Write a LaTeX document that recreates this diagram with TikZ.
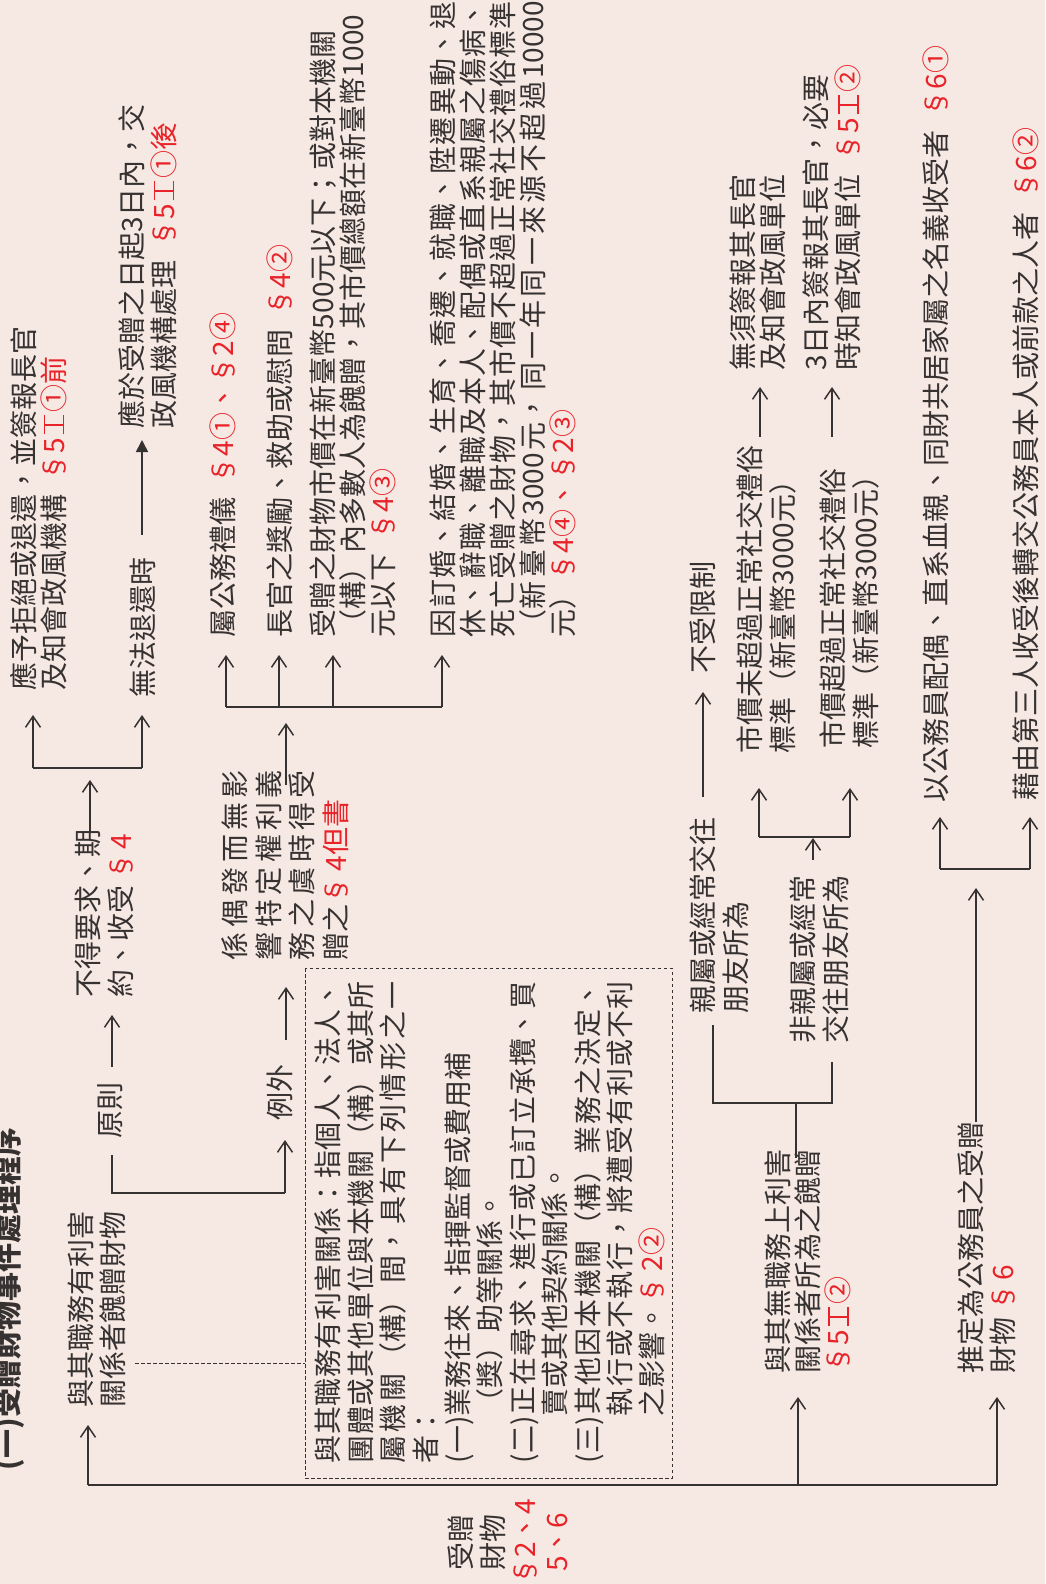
\documentclass[tikz,border=0pt]{standalone}
\usepackage{fontspec}
\setmainfont{Noto Sans CJK TC}
\usetikzlibrary{arrows.meta}
\definecolor{bg}{RGB}{246,232,226}
\definecolor{tx}{RGB}{55,50,50}
\definecolor{rd}{RGB}{232,36,42}
\newcommand\rd[1]{\textcolor{rd}{#1}}
\newcommand\gp{\hspace{13pt}}
\newcommand\ind{\phantom{(一)}}
\newcommand\RI{\hspace{3pt}\makebox[19pt][l]{\rlap{\rule[0pt]{19pt}{1.3pt}}\rlap{\rule[19pt]{19pt}{1.3pt}}\hspace{8.5pt}\rule{2pt}{20.3pt}}\hspace{3pt}}
\XeTeXlinebreaklocale "zh"
\XeTeXlinebreakskip=0pt plus 6pt
\lineskiplimit=-\maxdimen
\tikzset{
  every node/.style={inner sep=0pt, outer sep=0pt, text=tx},
  rot/.style={rotate=90, anchor=north west, align=left, font=\fontsize{28}{30}\selectfont},
  sk/.style={font=\fontsize{28}{#1}\selectfont},
  ln/.style={draw=tx, line width=1.5pt},
  ar/.style={ln, -{Straight Barb[length=11pt,width=15pt]}},
  fa/.style={ln, -{Triangle[length=12pt,width=12pt]}},
  dsh/.style={draw=tx, line width=1pt, dash pattern=on 3.5pt off 2.5pt}
}
\begin{document}
\begin{tikzpicture}[x=1pt,y=-1pt]
\useasboundingbox (0,0) rectangle (1045,1584);
\fill[bg] (0,0) rectangle (1045,1584);

% title
\node[rot, font=\fontsize{29}{30}\selectfont\bfseries] (title) at (-7,1470) {(一)受贈財物事件處理程序};

% root
\node[rotate=90, anchor=center, align=center, sk=32] (root) at (508,1542) {受贈\\財物\\\rd{§2、4}\\\rd{5、6}};

% level 1
\node[rot, sk=32] (nA) at (68,1407) {與其職務有利害\\關係者餽贈財物};
\node[rot] (nB) at (765,1373) {與其無職務上利害\\關係者所為之餽贈\\\rd{§5\RI②}};
\node[rot, sk=32] (nC) at (958,1373) {推定為公務員之受贈\\財物\hspace{6pt}\rd{§\hspace{3pt}6}};

% dashed box
\node[rotate=90, anchor=north west, draw=tx, dsh, minimum width=510pt, minimum height=367pt] (box) at (305,1478) {};
\node[rot, text width=482pt, align=justify, sk=32.4] (boxt) at (315,1463) {與其職務有利害關係：指個人、法人、\linebreak 團體或其他單位與本機關（構）或其所\linebreak 屬機關（構）間，具有下列情形之一\linebreak 者：\\(一)業務往來、指揮監督或費用補\\\ind（獎）助等關係。\\(二)正在尋求、進行或已訂立承攬、買\linebreak \ind 賣或其他契約關係。\\(三)其他因本機關（構）業務之決定、\linebreak \ind 執行或不執行，將遭受有利或不利\linebreak \ind 之影響。\rd{§\,2②}};

% principle / exception
\node[rot] (yz) at (98,1138) {原則};
\node[rot] (lw) at (267,1120) {例外};
\node[rot, sk=33] (prin) at (75,997) {不得要求、期\\約、收受\hspace{5pt}\rd{§\hspace{3pt}4}};
\node[rot] (deny) at (10,690) {應予拒絕或退還，並簽報長官\\及知會政風機構\gp\rd{§5\RI①前}};
\node[rot] (noret) at (130,697) {無法退還時};
\node[rot, sk=32] (ret) at (118,428) {應於受贈之日起3日內，交\\政風機構處理\gp\rd{§5\RI①後}};
\node[rot, text width=190pt, align=justify, sk=33.5] (exc) at (222,960) {係偶發而無影\linebreak 響特定權利義\linebreak 務之虞時得受\linebreak 贈之\rd{§\,4但書}};
\node[rot] (a1) at (210,637) {屬公務禮儀\gp\rd{§4①、§2④}};
\node[rot] (a2) at (267,637) {長官之獎勵、救助或慰問\gp\rd{§4②}};
\node[rot] (a3) at (310,637) {受贈之財物市價在新臺幣500元以下；或對本機關\\（構）內多數人為餽贈，其市價總額在新臺幣1000\\元以下\gp\rd{§4③}};
\node[rot, text width=636pt, align=justify] (a4) at (430,637) {因訂婚、結婚、生育、喬遷、就職、陞遷異動、退\linebreak 休、辭職、離職及本人、配偶或直系親屬之傷病、\linebreak 死亡受贈之財物，其市價不超過正常社交禮俗標準\linebreak （新臺幣3000元，同一年同一來源不超過10000\linebreak 元）\rd{§4④、§2③}};

% no interest branch
\node[rot, sk=33] (kin) at (690,1013) {親屬或經常交往\\朋友所為};
\node[rot, sk=33] (nonkin) at (790,1043) {非親屬或經常\\交往朋友所為};
\node[rot] (nolim) at (690,673) {不受限制};
\node[rot, sk=33] (under) at (737,753) {市價未超過正常社交禮俗\\標準（新臺幣3000元）};
\node[rot, sk=33] (over) at (820,748) {市價超過正常社交禮俗\\標準（新臺幣3000元）};
\node[rot] (norep) at (730,370) {無須簽報其長官\\及知會政風單位};
\node[rot, sk=32] (rep) at (803,370) {3日內簽報其長官，必要\\時知會政風單位\gp\rd{§5\RI②}};

% presumed branch
\node[rot] (spouse) at (923,802) {以公務員配偶、直系血親、同財共居家屬之名義收受者\gp\rd{§6①}};
\node[rot] (third) at (1013,800) {藉由第三人收受後轉交公務員本人或前款之人者\gp\rd{§6②}};

% ---------- connectors ----------
% spine
\coordinate (s1) at (88,1485);
\coordinate (s2) at (798,1485);
\coordinate (s3) at (997,1485);
\draw[ln] (s1) -- (s3);
\draw[ar] (s1) -- (88,1425);
\draw[ar] (s2) -- (798,1397);
\draw[ar] (s3) -- (997,1397);
% dashed link
\draw[dsh] (135,1363) -- (box.north west |- 0,1363);
% bracket to principle / exception
\draw[ln] (112,1155) -- (112,1193) -- (285,1193);
\draw[ar] (285,1193) -- (285,1140);
\draw[ar] (112,1067) -- (112,1015);
\draw[ar] (286,1040) -- (286,987);
% principle
\draw[ar] (90,833) -- (90,780);
\draw[ln] (33,768) -- (142,768);
\draw[ar] (33,768) -- (33,715);
\draw[ar] (142,768) -- (142,715);
\draw[fa] (142,535) -- (142,440);
% exception
\draw[ar] (286,785) -- (286,723);
\draw[ln] (226,707) -- (442,707);
\foreach \x in {226,279,333,442} \draw[ar] (\x,707) -- (\x,655);
% no interest
\draw[ar] (703,797) -- (703,692);
\draw[ln] (713,1025) -- (713,1103) -- (832,1103) -- (832,1062);
\draw[ln] (796,1103) -- (796,1158);
\draw[ar] (813,860) -- (813,838);
\draw[ln] (759,837) -- (850,837);
\draw[ar] (759,837) -- (759,788);
\draw[ar] (850,837) -- (850,788);
\draw[ar] (760,437) -- (760,387);
\draw[ar] (832,437) -- (832,387);
% presumed
\draw[ar] (976,1122) -- (976,888);
\draw[ln] (940,869) -- (1030,869);
\draw[ar] (940,869) -- (940,817);
\draw[ar] (1030,869) -- (1030,817);
\end{tikzpicture}
\end{document}
